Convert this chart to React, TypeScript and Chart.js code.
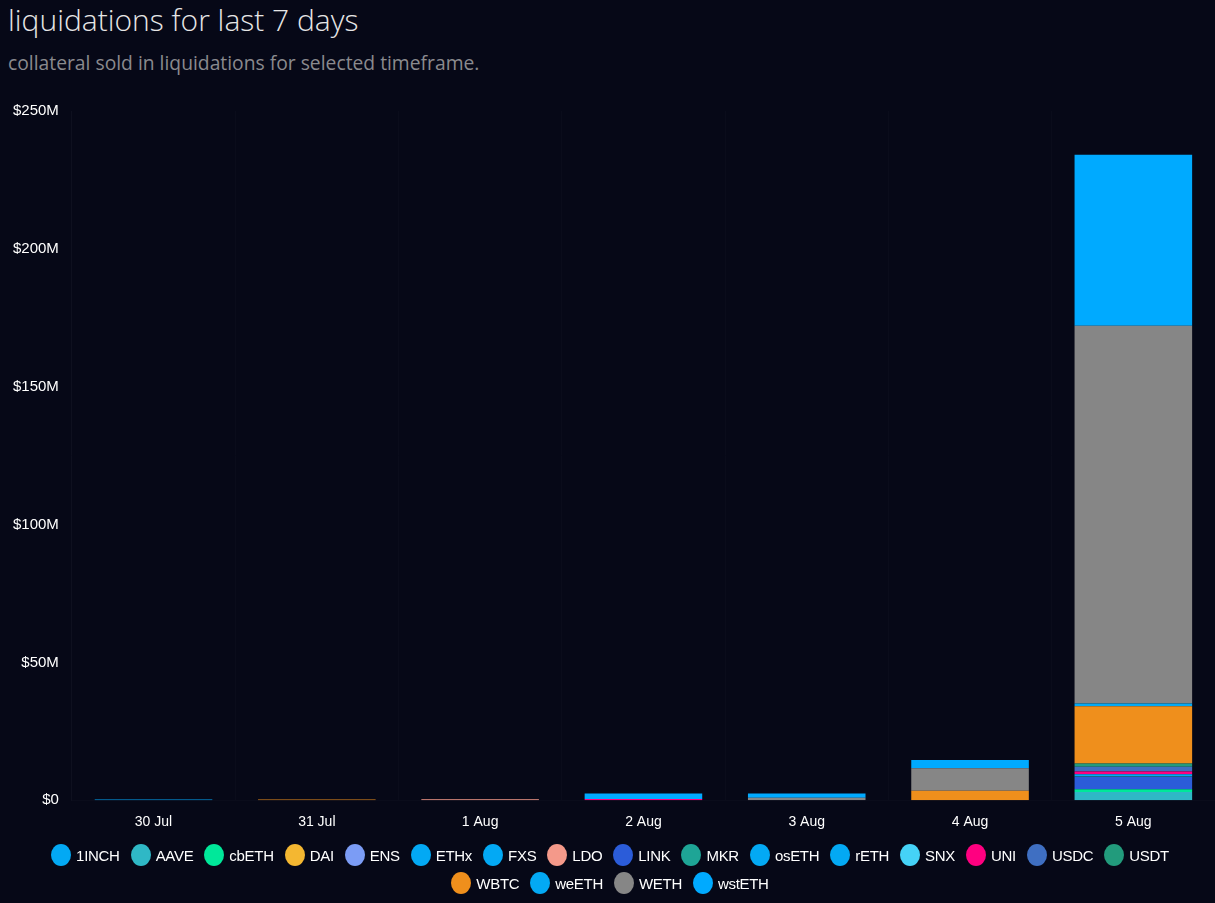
import React, { useEffect, useRef } from "react";
import { Chart, registerables } from "chart.js";

Chart.register(...registerables);

const days = ["30 Jul", "31 Jul", "1 Aug", "2 Aug", "3 Aug", "4 Aug", "5 Aug"];

const assets = ["1INCH", "AAVE", "cbETH", "DAI", "ENS", "ETHx", "FXS", "LDO", "LINK", "MKR", "osETH", "rETH", "SNX", "UNI", "USDC", "USDT", "WBTC", "weETH", "WETH", "wstETH"];

const colors = ["#03a9f4", "#2fb8c6", "#00e89a", "#f4b731", "#7b9cf5", "#03a9f4", "#03a9f4", "#f4998a", "#2b5cd9", "#1ea596", "#03a9f4", "#03a9f4", "#45d2f7", "#ff0080", "#3f6fc2", "#229b7c", "#ef8f1c", "#03a9f4", "#868686", "#00aaff"];

// values in $M, per day
const v1INCH = [0, 0, 0, 0, 0, 0, 0];
const vAAVE = [0, 0, 0, 0, 0, 0, 3.0];
const vcbETH = [0, 0, 0, 0, 0, 0, 1.0];
const vDAI = [0, 0, 0, 0, 0, 0, 0];
const vENS = [0, 0, 0, 0, 0, 0, 0];
const vETHx = [0, 0, 0, 0, 0, 0, 0];
const vFXS = [0, 0, 0, 0, 0, 0, 0];
const vLDO = [0, 0, 0.3, 0, 0, 0, 0];
const vLINK = [0, 0, 0, 0, 0, 0, 4.5];
const vMKR = [0, 0, 0, 0, 0, 0, 0.2];
const vosETH = [0, 0, 0, 0, 0, 0, 0];
const vrETH = [0, 0, 0, 0, 0, 0, 0.7];
const vSNX = [0, 0, 0, 0, 0, 0, 0];
const vUNI = [0, 0, 0, 0.4, 0, 0, 1.0];
const vUSDC = [0, 0, 0, 0, 0, 0, 1.7];
const vUSDT = [0, 0, 0, 0, 0, 0, 1.2];
const vWBTC = [0, 0.25, 0, 0, 0, 3.4, 20.8];
const vweETH = [0, 0, 0, 0, 0, 0, 1.0];
const vWETH = [0, 0, 0, 0, 0.9, 8.2, 137.0];
const vwstETH = [0.25, 0, 0, 2.0, 1.5, 3.0, 62.0];

const series = [v1INCH, vAAVE, vcbETH, vDAI, vENS, vETHx, vFXS, vLDO, vLINK, vMKR, vosETH, vrETH, vSNX, vUNI, vUSDC, vUSDT, vWBTC, vweETH, vWETH, vwstETH];

const yTicks = [0, 50, 100, 150, 200, 250];

const legendRows = [assets.slice(0, 16), assets.slice(16)];

const axisFont = "'Liberation Sans', Arial, sans-serif";

export default function App() {
  const ref = useRef<HTMLCanvasElement>(null);
  useEffect(() => {
    document.body.style.margin = "0";
    document.body.style.background = "#060817";
    const chart = new Chart(ref.current!, {
      type: "bar",
      data: {
        labels: days,
        datasets: assets.map((a, i) => ({
          label: a,
          data: series[i],
          backgroundColor: colors[i],
          borderWidth: 0,
        })),
      },
      options: {
        animation: false,
        responsive: true,
        maintainAspectRatio: false,
        layout: { padding: { top: 19, right: 0, left: 8, bottom: 0 } },
        plugins: {
          legend: { display: false },
          tooltip: { enabled: false },
        },
        scales: {
          x: {
            stacked: true,
            grid: { color: "rgba(255,255,255,0.02)", drawTicks: false },
            border: { color: "rgba(255,255,255,0.02)" },
            ticks: { color: "#ffffff", font: { family: axisFont, size: 14 }, padding: 14 },
          },
          y: {
            stacked: true,
            min: 0,
            max: 250,
            afterBuildTicks: (axis: any) => {
              axis.ticks = yTicks.map((v) => ({ value: v }));
            },
            grid: { display: false },
            border: { color: "rgba(255,255,255,0.02)" },
            ticks: {
              color: "#ffffff",
              font: { family: axisFont, size: 15 },
              padding: 5,
              callback: (v: any) => (v === 0 ? "$0" : "$" + v + "M"),
            },
          },
        },
      },
    });
    return () => chart.destroy();
  }, []);

  return (
    <div style={{ position: "absolute", left: 0, top: 0, width: 1215, height: 903, background: "#060817", overflow: "hidden" }}>
      <div style={{ position: "absolute", left: 8, top: -1, fontFamily: "'Open Sans', Lato, sans-serif", fontWeight: 300, fontSize: 30, color: "#e6e6e6", whiteSpace: "nowrap" }}>
        liquidations for last 7 days
      </div>
      <div style={{ position: "absolute", left: 8, top: 49, fontFamily: "'Open Sans', Lato, sans-serif", fontWeight: 400, fontSize: 19.3, color: "#8a8a8e", whiteSpace: "nowrap" }}>
        collateral sold in liquidations for selected timeframe.
      </div>
      <div style={{ position: "absolute", left: 0, top: 92, width: 1215, height: 753 }}>
        <canvas ref={ref} />
      </div>
      <div style={{ position: "absolute", left: 8, top: 841, width: 1215, fontFamily: axisFont, fontSize: 15, color: "#ffffff", letterSpacing: "-0.3px" }}>
        {legendRows.map((row, r) => (
          <div key={r} style={{ display: "flex", justifyContent: "center", alignItems: "center", height: 28 }}>
            {row.map((a) => {
              const i = assets.indexOf(a);
              return (
                <div key={a} style={{ display: "flex", alignItems: "center", marginRight: 11 }}>
                  <span style={{ display: "inline-block", width: 20, height: 22, borderRadius: "50%", background: colors[i], marginRight: 5 }} />
                  <span style={{ whiteSpace: "nowrap" }}>{a}</span>
                </div>
              );
            })}
          </div>
        ))}
      </div>
    </div>
  );
}
